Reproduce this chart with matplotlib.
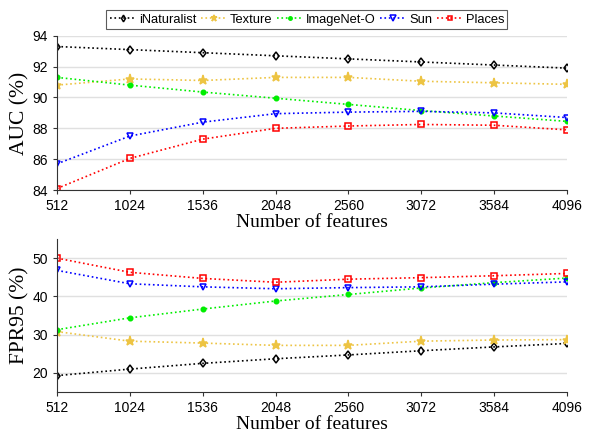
import matplotlib
matplotlib.use("Agg")
import matplotlib.pyplot as plt

# Dữ liệu
features = [512, 1024, 1536, 2048, 2560, 3072, 3584, 4096]
datasets = ["iNaturalist", "Texture", "ImageNet-O", "Sun", "Places"]

auc_inat = [93.3, 93.1, 92.9, 92.7, 92.5, 92.3, 92.1, 91.9]
auc_texture = [90.8, 91.2, 91.1, 91.3, 91.3, 91.05, 90.95, 90.85]
auc_imagenet_o = [91.3, 90.8, 90.35, 89.95, 89.55, 89.15, 88.8, 88.45]
auc_sun = [85.7, 87.5, 88.4, 88.95, 89.05, 89.1, 89.0, 88.7]
auc_places = [84.1, 86.05, 87.3, 88.0, 88.15, 88.25, 88.2, 87.9]

fpr_inat = [19.3, 21.0, 22.5, 23.7, 24.7, 25.8, 26.8, 27.7]
fpr_texture = [30.8, 28.3, 27.8, 27.2, 27.2, 28.3, 28.6, 28.7]
fpr_imagenet_o = [31.3, 34.4, 36.7, 38.8, 40.5, 42.2, 43.6, 44.8]
fpr_sun = [46.8, 43.3, 42.5, 42.0, 42.3, 42.5, 43.2, 43.8]
fpr_places = [50.0, 46.3, 44.7, 43.7, 44.5, 44.9, 45.4, 46.0]

auc_all = [auc_inat, auc_texture, auc_imagenet_o, auc_sun, auc_places]
fpr_all = [fpr_inat, fpr_texture, fpr_imagenet_o, fpr_sun, fpr_places]

# Kiểu vẽ cho từng tập dữ liệu
colors = ["black", "#EDC443", "#00EE00", "#0000FF", "#FF0000"]
markers = ["d", "*", ".", "v", "s"]
fills = ["none", "full", "full", "none", "none"]
msizes = [4.5, 6.5, 6.5, 5, 4]

fig = plt.figure(figsize=(5.91, 4.41), dpi=100)
ax1 = fig.add_axes([0.0964, 0.569, 0.863, 0.350])
ax2 = fig.add_axes([0.0964, 0.111, 0.863, 0.347])

def draw(ax, series, ylim, yticks, ylabel):
    for name, vals, c, m, f, ms in zip(datasets, series, colors, markers, fills, msizes):
        ax.plot(features, vals, linestyle=":", linewidth=1.2, color=c, marker=m,
                markersize=ms, fillstyle=f, markeredgewidth=1.1, label=name)
    ax.set_xlim(512, 4096)
    ax.set_ylim(*ylim)
    ax.set_xticks(features)
    ax.set_yticks(yticks)
    ax.tick_params(labelsize=10, direction="out", length=3, color="#333333")
    for lbl in ax.get_xticklabels() + ax.get_yticklabels():
        lbl.set_family("Liberation Sans")
    ax.grid(axis="y", color="#E0E0E0", linewidth=1)
    ax.set_axisbelow(True)
    for s in ["top", "right"]:
        ax.spines[s].set_visible(False)
    for s in ["left", "bottom"]:
        ax.spines[s].set_color("#333333")
    ax.set_xlabel("Number of features", family="Liberation Serif", fontsize=14, labelpad=1)
    ax.set_ylabel(ylabel, family="Liberation Serif", fontsize=15.5, labelpad=2)

draw(ax1, auc_all, (84, 94), [84, 86, 88, 90, 92, 94], "AUC (%)")
draw(ax2, fpr_all, (15, 55), [20, 30, 40, 50], "FPR95 (%)")

leg = ax1.legend(loc="lower center", bbox_to_anchor=(0.49, 1.02), ncol=5,
                 prop={"family": "Liberation Sans", "size": 9.3}, frameon=True, fancybox=False,
                 edgecolor="#333333", handlelength=2.0, handletextpad=0.25, columnspacing=0.35,
                 borderpad=0.25, borderaxespad=0.3, markerscale=0.75)
leg.get_frame().set_linewidth(0.8)

fig.savefig("out.png", dpi=100)
